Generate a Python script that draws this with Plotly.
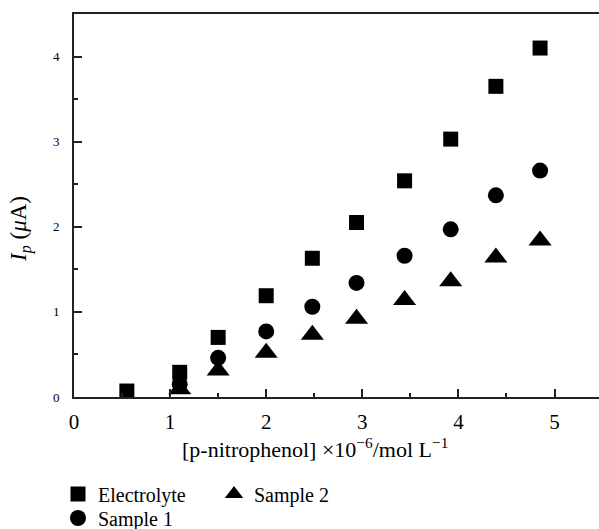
import plotly.graph_objects as go

# Data
x_electrolyte = [0.55, 1.10, 1.50, 2.00, 2.48, 2.94, 3.44, 3.92, 4.39, 4.85]
y_electrolyte = [0.07, 0.29, 0.70, 1.19, 1.63, 2.05, 2.54, 3.03, 3.65, 4.10]
x_sample1 = [1.10, 1.50, 2.00, 2.48, 2.94, 3.44, 3.92, 4.39, 4.85]
y_sample1 = [0.15, 0.46, 0.77, 1.06, 1.34, 1.66, 1.97, 2.37, 2.66]
x_sample2 = [1.10, 1.50, 2.00, 2.48, 2.94, 3.44, 3.92, 4.39, 4.85]
y_sample2 = [0.09, 0.31, 0.52, 0.73, 0.92, 1.14, 1.36, 1.64, 1.84]
x_ticks = [0, 1, 2, 3, 4, 5]
y_ticks = [0, 1, 2, 3, 4]

FONT = "Liberation Serif"
W, H = 599, 529
ML, MR, MT, MB = 74, 0, 14, 529 - 397
PW, PH = W - ML - MR, H - MT - MB

fig = go.Figure()
fig.add_trace(go.Scatter(
    x=x_electrolyte, y=y_electrolyte, mode="markers", name="Electrolyte",
    marker=dict(symbol="square", size=15, color="black", line=dict(width=0)),
    legend="legend",
))
fig.add_trace(go.Scatter(
    x=x_sample2, y=y_sample2, mode="markers", name="Sample 2",
    marker=dict(symbol="triangle-up", size=20, color="black", line=dict(width=0)),
    legend="legend",
))
fig.add_trace(go.Scatter(
    x=x_sample1, y=y_sample1, mode="markers", name="Sample 1",
    marker=dict(symbol="circle", size=16, color="black", line=dict(width=0)),
    legend="legend2",
))

# helpers: page pixel -> paper coords
def px_x(p):
    return (p - ML) / PW

def px_y(p):
    return (H - MB - p) / PH

fig.update_layout(
    width=W, height=H,
    margin=dict(l=ML, r=MR, t=MT, b=MB, pad=0, autoexpand=False),
    plot_bgcolor="white", paper_bgcolor="white",
    font=dict(family=FONT, color="black", size=20),
    showlegend=True,
    legend=dict(
        orientation="h", x=px_x(58), xanchor="left", y=px_y(494), yanchor="middle",
        font=dict(family=FONT, size=20, color="black"), bgcolor="rgba(0,0,0,0)",
        entrywidth=111, entrywidthmode="pixels", itemsizing="trace",
    ),
    legend2=dict(
        orientation="h", x=px_x(58), xanchor="left", y=px_y(518), yanchor="middle",
        font=dict(family=FONT, size=20, color="black"), bgcolor="rgba(0,0,0,0)",
        itemsizing="trace",
    ),
    xaxis=dict(
        range=[0, PW / 96.1], tickvals=x_ticks, ticktext=[str(v) for v in x_ticks],
        showgrid=False, zeroline=False, showline=True, linecolor="#222", linewidth=2,
        mirror=True, ticks="inside", ticklen=8, tickwidth=1.5, tickcolor="#222",
        tickfont=dict(family=FONT, size=21, color="black"), ticklabelstandoff=5,
        minor=dict(ticks="inside", ticklen=4, tickwidth=1.5, tickcolor="#222", dtick=0.5, showgrid=False),
    ),
    yaxis=dict(
        range=[0, 4.5], tickvals=y_ticks, ticktext=[str(v) for v in y_ticks],
        showgrid=False, zeroline=False, showline=True, linecolor="#222", linewidth=2,
        mirror=False, ticks="inside", ticklen=8, tickwidth=1.5, tickcolor="#222",
        tickfont=dict(family=FONT, size=13, color="black"), ticklabelstandoff=10,
        minor=dict(ticks="inside", ticklen=4, tickwidth=1.5, tickcolor="#222", dtick=0.5, showgrid=False),
    ),
    annotations=[
        dict(text="[p-nitrophenol] ×10<sup>−6</sup>/mol L<sup>−1</sup>",
             xref="paper", yref="paper", x=px_x(315), y=px_y(448),
             xanchor="center", yanchor="middle", showarrow=False,
             font=dict(family=FONT, size=22, color="black")),
        dict(text="<i>I<sub>p</sub></i> (<i>μ</i>A)",
             xref="paper", yref="paper", x=px_x(20), y=px_y(229),
             xanchor="center", yanchor="middle", showarrow=False, textangle=-90,
             font=dict(family=FONT, size=23, color="black")),
    ],
)

post = (
    "document.documentElement.style.margin='0';"
    "document.documentElement.style.padding='0';"
    "document.documentElement.style.overflow='hidden';"
    "document.body.style.margin='0';"
    "document.body.style.padding='0';"
    "document.body.style.overflow='hidden';"
)
fig.write_html("out.html", post_script=post, config={"displayModeBar": False})
